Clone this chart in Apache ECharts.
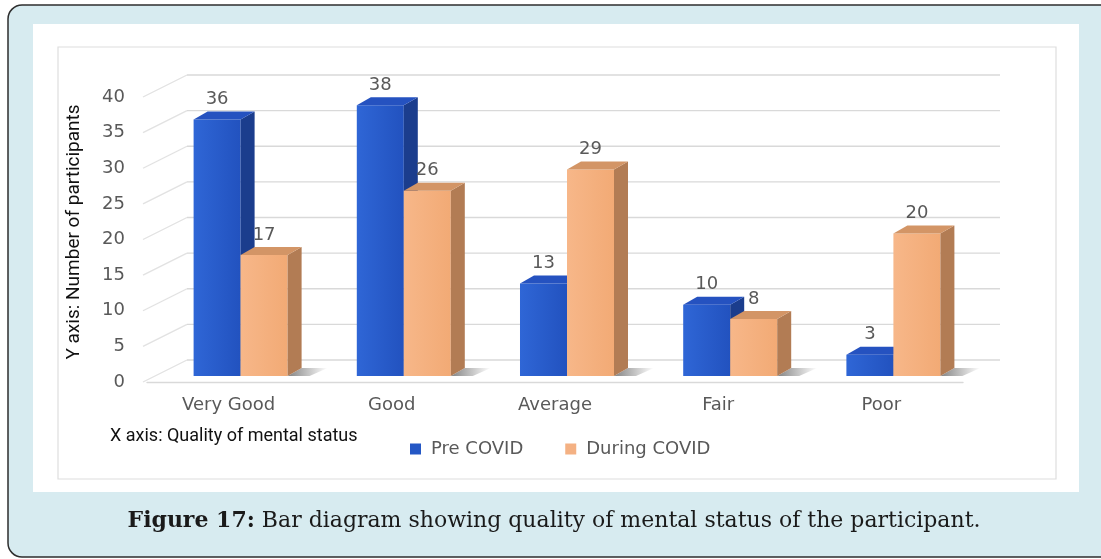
<!DOCTYPE html>
<html>
<head>
<meta charset="utf-8">
<script src="https://cdn.jsdelivr.net/npm/echarts@6/dist/echarts.min.js"></script>
<style>
  html, body { margin: 0; padding: 0; background: #ffffff; }
  #chart { width: 1101px; height: 559px; }
</style>
</head>
<body>
<div id="chart"></div>
<script>
// Participants by quality of mental status
const categories = ['Very Good', 'Good', 'Average', 'Fair', 'Poor'];
const preCovid = [36, 38, 13, 10, 3];
const duringCovid = [17, 26, 29, 8, 20];
const seriesNames = ['Pre COVID', 'During COVID'];
const yTicks = [0, 5, 10, 15, 20, 25, 30, 35, 40];

const chart = echarts.init(document.getElementById('chart'));

// pseudo-3D geometry (pixels)
const BAR_SHIFT = [12, -6];     // bar front face relative to the label plane
const BAR_DEPTH = [14, -8];     // thickness of each bar
const WALL_LEFT = [44, -22];    // back wall offset at the left end
const WALL_RIGHT = [37, -22];   // back wall offset at the right end

const palettes = [
  { front: ['#2f66d6', '#2252bf'], side: '#1b3d8d', top: '#2552c0', legend: '#2457c5' },
  { front: ['#f7b789', '#f2aa75'], side: '#b27c54', top: '#d39566', legend: '#f4b183' }
];

const labelFont = '"DejaVu Sans", sans-serif';

function wallGrid(params, api) {
  const v = api.value(1);
  const band = api.size([1, 0])[0];
  const pL = api.coord([0, v]);
  const pR = api.coord([categories.length - 1, v]);
  const xl = pL[0] - band / 2 - 4;
  const xr = pR[0] + band / 2;
  const y = pL[1];
  const bl = [xl + WALL_LEFT[0], y + WALL_LEFT[1]];
  const br = [xr + WALL_RIGHT[0], y + WALL_RIGHT[1]];
  return {
    type: 'group',
    children: [
      { type: 'line', shape: { x1: xl, y1: y, x2: bl[0], y2: bl[1] },
        style: { stroke: '#e2e2e2', lineWidth: 1.3 } },
      { type: 'line', shape: { x1: bl[0], y1: bl[1], x2: br[0], y2: br[1] },
        style: { stroke: '#d9d9d9', lineWidth: 1.4 } }
    ]
  };
}

function bar3D(side, pal) {
  return function (params, api) {
    const cat = api.value(0);
    const val = api.value(1);
    const base = api.coord([cat, 0]);
    const top = api.coord([cat, val]);
    const band = api.size([1, 0])[0];
    const w = band * 0.288;
    const x0 = base[0] + BAR_SHIFT[0] + (side === 0 ? -w : 0);
    const x1 = x0 + w;
    const yb = base[1] + BAR_SHIFT[1];
    const yt = top[1] + BAR_SHIFT[1];
    const dx = BAR_DEPTH[0], dy = BAR_DEPTH[1];
    return {
      type: 'group',
      children: [
        { type: 'polygon',
          shape: { points: [[x1, yb], [x1 + dx, yb + dy], [x1 + dx + 26, yb + dy], [x1 + 22, yb]] },
          style: { fill: new echarts.graphic.LinearGradient(0, 0, 1, 0, [
            { offset: 0, color: 'rgba(50,50,50,0.6)' },
            { offset: 1, color: 'rgba(50,50,50,0)' }]) } },
        { type: 'rect', shape: { x: x0, y: yt, width: w, height: yb - yt },
          style: { fill: new echarts.graphic.LinearGradient(0, 0, 1, 0, [
            { offset: 0, color: pal.front[0] },
            { offset: 1, color: pal.front[1] }]) } },
        { type: 'polygon',
          shape: { points: [[x1, yb], [x1 + dx, yb + dy], [x1 + dx, yt + dy], [x1, yt]] },
          style: { fill: pal.side } },
        { type: 'polygon',
          shape: { points: [[x0, yt], [x0 + dx, yt + dy], [x1 + dx, yt + dy], [x1, yt]] },
          style: { fill: pal.top } },
        { type: 'text',
          style: { text: String(val), x: (x0 + x1) / 2, y: yt - 20,
                   align: 'center', verticalAlign: 'middle',
                   fill: '#595959', font: '18px ' + labelFont } }
      ]
    };
  };
}

const option = {
  animation: false,
  backgroundColor: '#ffffff',
  grid: { left: 147, right: 138, top: 97, bottom: 177, containLabel: false },
  xAxis: {
    type: 'category',
    data: categories,
    axisLine: { show: true, lineStyle: { color: '#d9d9d9', width: 1.4 } },
    axisTick: { show: false },
    axisLabel: { color: '#595959', fontSize: 18, fontFamily: labelFont, margin: 14 },
    splitLine: { show: false }
  },
  yAxis: {
    type: 'value',
    min: 0, max: 40, interval: 5,
    axisLine: { show: false },
    axisTick: { show: false },
    splitLine: { show: false },
    axisLabel: { color: '#595959', fontSize: 18, fontFamily: labelFont, margin: 22 }
  },
  legend: {
    data: seriesNames,
    left: 405, top: 435,
    icon: 'rect',
    itemWidth: 11, itemHeight: 11,
    itemGap: 42,
    textStyle: { color: '#595959', fontSize: 18, fontFamily: labelFont, padding: [0, 0, 0, 5] }
  },
  series: [
    {
      type: 'custom',
      name: 'wall',
      silent: true,
      z: 1,
      renderItem: wallGrid,
      data: yTicks.map(v => [0, v])
    },
    {
      type: 'custom',
      name: seriesNames[0],
      z: 3,
      itemStyle: { color: palettes[0].legend },
      renderItem: bar3D(0, palettes[0]),
      encode: { x: 0, y: 1 },
      data: preCovid.map((v, i) => [i, v])
    },
    {
      type: 'custom',
      name: seriesNames[1],
      z: 4,
      itemStyle: { color: palettes[1].legend },
      renderItem: bar3D(1, palettes[1]),
      encode: { x: 0, y: 1 },
      data: duringCovid.map((v, i) => [i, v])
    }
  ],
  graphic: {
    elements: [
      { type: 'rect', z: -30,
        shape: { x: 8, y: 5, width: 1130, height: 552, r: 14 },
        style: { fill: '#d7ebf0', stroke: '#2e2e2e', lineWidth: 1.5 } },
      { type: 'rect', z: -20,
        shape: { x: 33, y: 24, width: 1046, height: 468 },
        style: { fill: '#ffffff' } },
      { type: 'rect', z: -10,
        shape: { x: 58, y: 47, width: 998, height: 432 },
        style: { fill: '#ffffff', stroke: '#dedede', lineWidth: 1.2 } },
      { type: 'text', z: 10, rotation: Math.PI / 2,
        x: 74, y: 232,
        style: { text: 'Y axis: Number of participants', align: 'center', verticalAlign: 'middle',
                 fill: '#111111', font: '19px Roboto, sans-serif' } },
      { type: 'text', z: 10,
        x: 110, y: 436,
        style: { text: 'X axis: Quality of mental status', align: 'left', verticalAlign: 'middle',
                 fill: '#111111', font: '18px Roboto, sans-serif' } },
      { type: 'text', z: 10,
        x: 554, y: 521,
        style: {
          text: '{b|Figure 17:} Bar diagram showing quality of mental status of the participant.',
          align: 'center', verticalAlign: 'middle',
          fill: '#1a1a1a', font: '22px "DejaVu Serif", serif',
          rich: { b: { fontWeight: 'bold', fontSize: 22, fontFamily: '"DejaVu Serif", serif', fill: '#1a1a1a' } }
        } }
    ]
  }
};

chart.setOption(option);
</script>
</body>
</html>
